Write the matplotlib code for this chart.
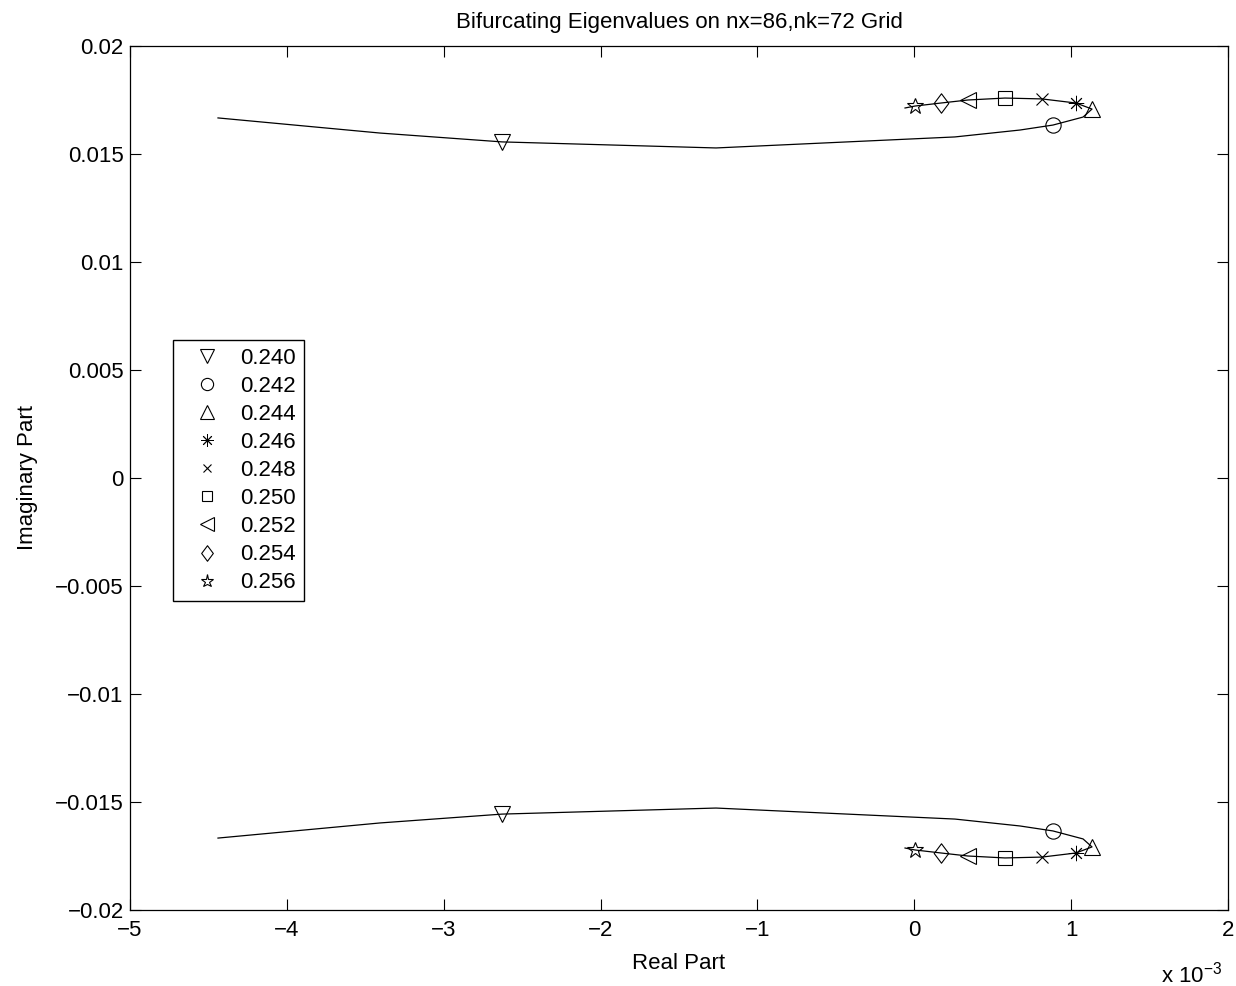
import matplotlib
matplotlib.use("Agg")
import matplotlib.pyplot as plt
from matplotlib.lines import Line2D
from matplotlib.path import Path
from matplotlib.ticker import FuncFormatter

plt.rcParams['font.family'] = ['Liberation Sans', 'DejaVu Sans']
plt.rcParams['mathtext.fontset'] = 'custom'
plt.rcParams['mathtext.rm'] = 'Liberation Sans'

FS = 16

# upper branch of the eigenvalue path (real part in units of 1e-3, imag in 1e-3)
path_re = [-4.439, -3.406, -2.628, -1.264, 0.259, 0.674, 0.884, 1.076, 1.133,
           1.031, 0.814, 0.578, 0.342, 0.170, 0.004, -0.059]
path_im = [16.67, 15.97, 15.56, 15.28, 15.79, 16.11, 16.34, 16.71, 17.08,
           17.36, 17.55, 17.59, 17.50, 17.36, 17.22, 17.13]

# marked parameter values
params = ['0.240', '0.242', '0.244', '0.246', '0.248', '0.250', '0.252', '0.254', '0.256']
mark_re = [-2.628, 0.884, 1.133, 1.031, 0.814, 0.578, 0.342, 0.170, 0.004]
mark_im = [15.56, 16.34, 17.08, 17.36, 17.55, 17.59, 17.50, 17.36, 17.22]

diamond = Path([(0, 1), (0.75, 0), (0, -1), (-0.75, 0), (0, 1)],
               [Path.MOVETO, Path.LINETO, Path.LINETO, Path.LINETO, Path.CLOSEPOLY])
markers = ['v', 'o', '^', (8, 2, 0), 'x', 's', '<', diamond, '*']
sizes = [12, 11, 12, 11, 8, 9.5, 12, 14, 12]

fig = plt.figure(figsize=(12.36, 9.86), dpi=100)
ax = fig.add_axes([130 / 1236, 1 - 910 / 986, 1098 / 1236, 864 / 986])

re = [v * 1e-3 for v in path_re]
im = [v * 1e-3 for v in path_im]
ax.plot(re, im, color='k', lw=0.9)
ax.plot(re, [-v for v in im], color='k', lw=0.9)

handles = []
for i, p in enumerate(params):
    mw = 0.65 if i == 3 else 0.8
    for sgn in (1, -1):
        ax.plot(mark_re[i] * 1e-3, sgn * mark_im[i] * 1e-3, linestyle='none',
                marker=markers[i], ms=sizes[i], mfc='none', mec='k', mew=mw)
    handles.append(Line2D([], [], linestyle='none', marker=markers[i], ms=sizes[i],
                          mfc='none', mec='k', mew=mw, label=p))

ax.set_xlim(-5e-3, 2e-3)
ax.set_ylim(-0.02, 0.02)
ax.set_xticks([k * 1e-3 for k in range(-5, 3)])
ax.set_yticks([k * 0.005 for k in range(-4, 5)])

def fmt(v):
    s = f'{v:g}'
    return s.replace('-', '\u2212')

ax.xaxis.set_major_formatter(FuncFormatter(lambda v, pos: fmt(round(v * 1e3, 6))))
ax.yaxis.set_major_formatter(FuncFormatter(lambda v, pos: fmt(round(v, 6))))

ax.tick_params(direction='in', length=8, width=0.8, labelsize=FS,
               top=True, right=True)
ax.tick_params(axis='x', pad=7.5)
ax.tick_params(axis='y', pad=4.5)
for s in ax.spines.values():
    s.set_linewidth(0.9)

ax.set_title('Bifurcating Eigenvalues on nx=86,nk=72 Grid', fontsize=FS, pad=13)
ax.set_xlabel('Real Part', fontsize=FS)
ax.set_ylabel('Imaginary Part', fontsize=FS)
ax.xaxis.set_label_coords(0.5, -(953 - 910) / 864)
ax.yaxis.set_label_coords(-(130 - 38) / 1098, 0.5)
fig.text(1161 / 1236, 1 - 982 / 986, 'x 10$^{\\mathregular{-3}}$', fontsize=FS, va='baseline')

leg = ax.legend(handles=handles, loc='upper left', bbox_to_anchor=(0.039, 0.66),
                borderaxespad=0, fontsize=FS, markerscale=0.8, numpoints=1,
                fancybox=False, framealpha=1, edgecolor='k', labelspacing=0.32,
                handlelength=2.4, handletextpad=0.3, borderpad=0.35)
leg.get_frame().set_linewidth(1.0)

fig.savefig('out.png', dpi=100)
